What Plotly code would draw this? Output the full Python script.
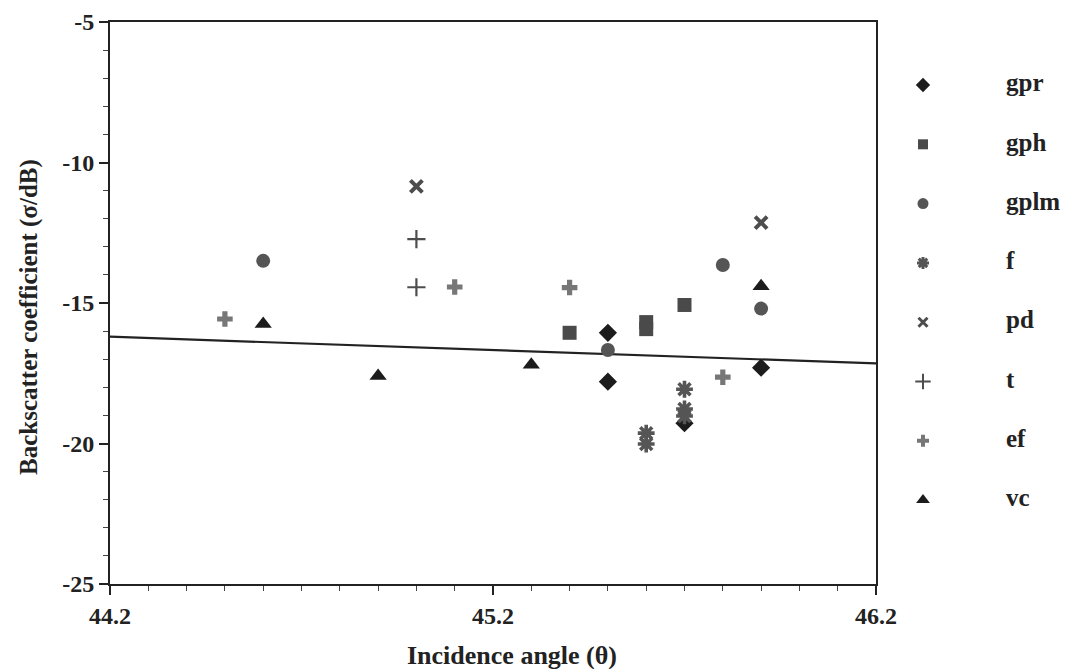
import plotly.graph_objects as go

# ---------------- data ----------------
gpr_x = [45.5, 45.5, 45.7, 45.9]
gpr_y = [-16.06, -17.8, -19.28, -17.3]

gph_x = [45.4, 45.6, 45.6, 45.7]
gph_y = [-16.06, -15.68, -15.93, -15.07]

gplm_x = [44.6, 45.5, 45.8, 45.9]
gplm_y = [-13.5, -16.67, -13.65, -15.2]

f_x = [45.6, 45.6, 45.7, 45.7, 45.7]
f_y = [-19.63, -20.02, -18.07, -18.77, -19.02]

pd_x = [45.0, 45.9]
pd_y = [-10.85, -12.14]

t_x = [45.0, 45.0]
t_y = [-12.73, -14.44]

ef_x = [44.5, 45.1, 45.4, 45.8]
ef_y = [-15.57, -14.43, -14.45, -17.64]

vc_x = [44.6, 44.9, 45.3, 45.9]
vc_y = [-15.75, -17.6, -17.2, -14.4]

trend_x = [44.2, 46.2]
trend_y = [-16.2, -17.15]

y_ticks = [-25, -20, -15, -10, -5]
y_ticktext = ["-25", "-20", "-15", "-10", "-5"]
x_ticks = [44.2, 45.2, 46.2]
x_ticktext = ["44.2", "45.2", "46.2"]

series_names = ["gpr", "gph", "gplm", "f", "pd", "t", "ef", "vc"]
x_title = "Incidence angle (θ)"
y_title = "Backscatter coefficient (σ/dB)"

# ---------------- styles ----------------
FONT = "Liberation Serif"
styles = {
    "gpr": dict(symbol="diamond", color="#1c1c1c", size=14, line=dict(width=0)),
    "gph": dict(symbol="square", color="#4a4a4a", size=14, line=dict(width=0)),
    "gplm": dict(symbol="circle", color="#555555", size=14, line=dict(width=0)),
    "f": dict(symbol="asterisk-open", color="#555555", size=14, line=dict(width=3.6, color="#555555")),
    "pd": dict(symbol="x-thin-open", color="#4d4d4d", size=12, line=dict(width=4, color="#4d4d4d")),
    "t": dict(symbol="cross-thin-open", color="#4d4d4d", size=13, line=dict(width=2.2, color="#4d4d4d")),
    "ef": dict(symbol="cross", color="#777777", size=13, line=dict(width=0)),
    "vc": dict(symbol="triangle-up", color="#1c1c1c", size=15, line=dict(width=0)),
}
legend_sizes = {
    "gpr": 11, "gph": 10, "gplm": 11, "f": 10, "pd": 9, "t": 11, "ef": 10, "vc": 12,
}
legend_lw = {"f": 3, "pd": 3, "t": 2}

data = {
    "gpr": (gpr_x, gpr_y), "gph": (gph_x, gph_y), "gplm": (gplm_x, gplm_y),
    "f": (f_x, f_y), "pd": (pd_x, pd_y), "t": (t_x, t_y),
    "ef": (ef_x, ef_y), "vc": (vc_x, vc_y),
}

W, H = 1073, 669
L, T, B = 110, 22, 85
plot_w = W - L
main_right = 876
dom_split = (main_right - L) / plot_w

fig = go.Figure()

# trend line
fig.add_trace(go.Scatter(x=trend_x, y=trend_y, mode="lines",
                         line=dict(color="#222222", width=2.2),
                         showlegend=False, hoverinfo="skip"))

for name in series_names:
    xs, ys = data[name]
    st = styles[name]
    fig.add_trace(go.Scatter(x=xs, y=ys, mode="markers", name=name,
                             marker=dict(symbol=st["symbol"], color=st["color"],
                                         size=st["size"], line=st["line"]),
                             showlegend=False, cliponaxis=False))

# legend drawn on a helper axis in pixel-like units
leg_marker_x = 923
leg_text_x = 1006
leg_y0 = 85
leg_dy = 59.3
leg_rows = [leg_y0 + i * leg_dy for i in range(len(series_names))]
for i, name in enumerate(series_names):
    st = styles[name]
    fig.add_trace(go.Scatter(x=[leg_marker_x], y=[leg_rows[i]], mode="markers",
                             xaxis="x2", yaxis="y2", showlegend=False,
                             marker=dict(symbol=st["symbol"], color=st["color"],
                                         size=legend_sizes[name],
                                         line=dict(width=legend_lw.get(name, 0),
                                                   color=st["color"]))))
fig.add_trace(go.Scatter(x=[leg_text_x] * len(series_names), y=leg_rows,
                         mode="text", text=series_names, textposition="middle right",
                         textfont=dict(family=FONT, size=25, color="#222222", weight="bold"),
                         xaxis="x2", yaxis="y2", showlegend=False))

tick_font = dict(family=FONT, size=24, color="#222222", weight="bold")
title_font = dict(family=FONT, size=25, color="#222222", weight="bold")

fig.update_layout(
    width=W, height=H,
    margin=dict(l=L, r=0, t=T, b=B, autoexpand=False),
    paper_bgcolor="white", plot_bgcolor="white",
    showlegend=False,
    xaxis=dict(domain=[0, dom_split], range=[44.2, 46.2],
               tickvals=x_ticks, ticktext=x_ticktext,
               ticks="outside", ticklen=9, tickwidth=2, tickcolor="#222222",
               minor=dict(dtick=0.1, tick0=44.2, ticks="outside", ticklen=5,
                          tickwidth=1, tickcolor="#444444", showgrid=False),
               showline=True, linecolor="#222222", linewidth=2, mirror=True,
               showgrid=False, zeroline=False, automargin=False,
               tickfont=tick_font),
    yaxis=dict(range=[-25, -5], tickvals=y_ticks, ticktext=y_ticktext,
               ticks="outside", ticklen=9, tickwidth=2, tickcolor="#222222",
               minor=dict(dtick=1, tick0=-25, ticks="outside", ticklen=5,
                          tickwidth=1, tickcolor="#444444", showgrid=False),
               showline=True, linecolor="#222222", linewidth=2, mirror=True,
               showgrid=False, zeroline=False, automargin=False,
               tickfont=tick_font),
    xaxis2=dict(domain=[dom_split, 1], range=[main_right, W], visible=False,
                anchor="y2", fixedrange=True),
    yaxis2=dict(domain=[0, 1], range=[H - B, T], visible=False,
                anchor="x2", fixedrange=True),
    annotations=[
        dict(text=x_title, xref="paper", yref="paper",
             x=(512 - L) / plot_w, y=-(655 - (H - B)) / (H - B - T),
             xanchor="center", yanchor="middle", showarrow=False,
             font=dict(family=FONT, size=26, color="#222222", weight="bold")),
        dict(text=y_title, xref="paper", yref="paper", textangle=-90,
             x=-(L - 29) / plot_w, y=((H - B) - 317) / (H - B - T),
             xanchor="center", yanchor="middle", showarrow=False,
             font=title_font),
    ],
)

fig.write_html("out.html")
